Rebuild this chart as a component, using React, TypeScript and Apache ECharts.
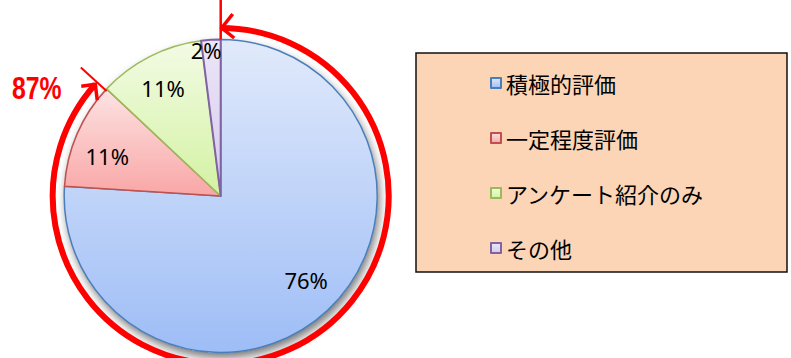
import React, { useEffect, useRef } from "react";
import * as echarts from "echarts";

const categories = ["積極的評価", "一定程度評価", "アンケート紹介のみ", "その他"];
const values = [76, 11, 11, 2];
const topColors = ["#e1eafb", "#fde3e3", "#f3fbe5", "#ece6f7"];
const bottomColors = ["#9ebdf6", "#f9a6a6", "#d3f2a2", "#d6caee"];
const borderColors = ["#4a7ebb", "#c0504d", "#9bbb59", "#8064a2"];

const W = 791;
const H = 358;
const CX = 220.7;
const CY = 196;
const R = 156.5;
const RING = 168;
const RED = "#ff0000";

const deg = (d: number) => (d * Math.PI) / 180;
const polar = (angDeg: number, r: number) => [CX + r * Math.cos(deg(angDeg)), CY + r * Math.sin(deg(angDeg))];

export default function App() {
  const ref = useRef<HTMLDivElement>(null);
  useEffect(() => {
    if (!ref.current) return;
    const chart = echarts.init(ref.current, null, { renderer: "svg" });
    const total = values.reduce((a, b) => a + b, 0);
    const markShare = values[0] + values[1];
    const markPct = Math.round((markShare / total) * 100);
    const boundaryAng = -90 + (markShare / total) * 360;
    const arcEnd = boundaryAng - 1.5;
    const tip2 = polar(arcEnd, RING);
    const tickA = polar(boundaryAng - 0.6, 155);
    const tickB = polar(boundaryAng - 0.6, 190);
    const tip1 = polar(-90, RING);

    const data = categories.map((name, i) => ({
      name,
      value: values[i],
      itemStyle: {
        color: new echarts.graphic.LinearGradient(0, 0, 0, 1, [
          { offset: 0, color: topColors[i] },
          { offset: 1, color: bottomColors[i] },
        ]),
        borderColor: borderColors[i],
        borderWidth: i === 3 ? 2 : 1.5,
      },
    }));
    const labelData = categories.map((name, i) => ({ name, value: values[i] }));
    const labelShift = [
      { dx: 3, dy: -4 },
      { dx: -3, dy: 8 },
      { dx: -3, dy: -1 },
      { dx: -7, dy: -26 },
    ];

    chart.setOption({
      animation: false,
      backgroundColor: "#ffffff",
      legend: {
        orient: "vertical",
        left: 490,
        top: 69,
        padding: 0,
        itemGap: 27,
        itemWidth: 10,
        itemHeight: 10,
        icon: "rect",
        data: categories,
        textStyle: {
          fontSize: 22,
          color: "#000",
          lineHeight: 28,
          fontFamily: '"Noto Sans CJK JP", sans-serif',
        },
      },
      graphic: [
        {
          type: "rect",
          shape: { x: 416, y: 53, width: 371, height: 219 },
          style: { fill: "#fbd5b5", stroke: "#111", lineWidth: 1.5 },
          z: 0,
        },
        {
          type: "circle",
          shape: { cx: CX, cy: CY, r: R },
          style: {
            fill: "#ffffff",
            shadowBlur: 10,
            shadowOffsetX: 2,
            shadowOffsetY: 5,
            shadowColor: "rgba(0,0,0,0.55)",
          },
          z: 0,
        },
        {
          type: "arc",
          shape: { cx: CX, cy: CY, r: RING, startAngle: deg(-90), endAngle: deg(arcEnd), clockwise: true },
          style: { stroke: RED, lineWidth: 6, fill: "none" },
          z: 10,
        },
        {
          type: "line",
          shape: { x1: CX, y1: 0, x2: CX, y2: CY - R },
          style: { stroke: RED, lineWidth: 2.5 },
          z: 10,
        },
        {
          type: "polyline",
          shape: {
            points: [
              [tip1[0] + 12, tip1[1] - 14],
              [tip1[0] + 1, tip1[1]],
              [tip1[0] + 13.5, tip1[1] + 10],
            ],
          },
          style: { stroke: RED, lineWidth: 3.5, fill: "none" },
          z: 10,
        },
        {
          type: "polyline",
          shape: {
            points: [
              [tip2[0] - 14, tip2[1] + 2],
              [tip2[0], tip2[1]],
              [tip2[0] + 2, tip2[1] + 16],
            ],
          },
          style: { stroke: RED, lineWidth: 3.5, fill: "none" },
          z: 10,
        },
        {
          type: "line",
          shape: { x1: tickA[0], y1: tickA[1], x2: tickB[0], y2: tickB[1] },
          style: { stroke: RED, lineWidth: 2 },
          z: 10,
        },
        {
          type: "text",
          x: 12,
          y: 89,
          scaleX: 0.8,
          style: {
            text: markPct + "%",
            fill: RED,
            fontSize: 31,
            fontWeight: "bold",
            fontFamily: '"Liberation Sans", Arial, sans-serif',
            verticalAlign: "middle",
            align: "left",
          },
          z: 10,
        },
      ],
      series: [
        {
          type: "pie",
          center: [CX, CY],
          radius: [0, R],
          startAngle: 90,
          clockwise: true,
          silent: true,
          label: { show: false },
          labelLine: { show: false },
          data,
          z: 2,
        },
        {
          type: "pie",
          center: [CX, CY],
          radius: [R / 2, R],
          startAngle: 90,
          clockwise: true,
          silent: true,
          legendHoverLink: false,
          itemStyle: { color: "rgba(0,0,0,0)", borderWidth: 0 },
          label: {
            show: true,
            position: "inside",
            formatter: "{d}%",
            fontSize: 22,
            color: "#000",
            fontFamily: '"Noto Sans", "Noto Sans CJK JP", sans-serif',
          },
          labelLine: { show: false },
          labelLayout: (p: any) => labelShift[p.dataIndex] || {},
          data: labelData,
          z: 3,
        },
      ],
    });
    return () => chart.dispose();
  }, []);
  return (
    <div
      ref={ref}
      style={{ position: "fixed", left: 0, top: 0, width: W, height: H }}
    />
  );
}
